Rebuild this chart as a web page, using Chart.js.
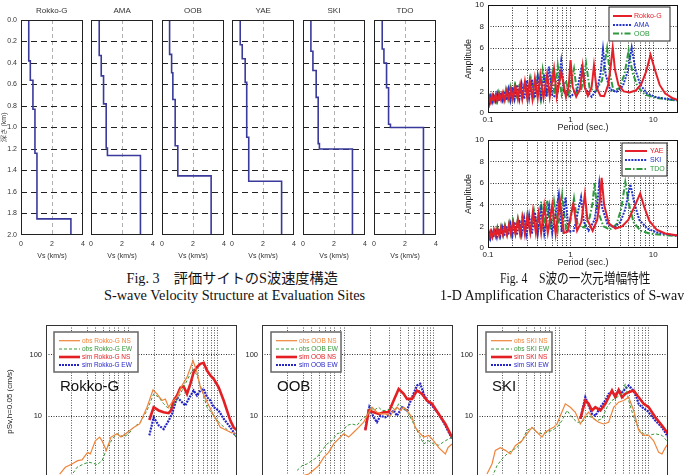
<!DOCTYPE html>
<html><head><meta charset="utf-8">
<script src="https://cdn.jsdelivr.net/npm/chart.js@4.4.1/dist/chart.umd.min.js"></script>
<style>
html,body{margin:0;padding:0;background:#fff;}
#page{position:relative;width:684px;height:475px;overflow:hidden;background:#fff;}
.txt{position:absolute;white-space:nowrap;line-height:1;}
canvas{position:absolute;}
</style></head><body><div id="page"></div>
<script>
// ===== Fig.3 S-wave velocity structure: layer top depth (km) and Vs (km/s) =====
const vsSites = ['Rokko-G', 'AMA', 'OOB', 'YAE', 'SKI', 'TDO'];
const rokkoDepth = [0, 0.38, 0.56, 0.83, 1.24, 1.85];
const rokkoVs    = [0.50, 0.60, 0.77, 0.90, 1.03, 3.22];
const amaDepth   = [0, 0.33, 0.52, 0.78, 1.19, 1.26];
const amaVs      = [0.53, 0.66, 0.81, 0.98, 1.06, 3.19];
const oobDepth   = [0, 0.32, 0.49, 0.74, 1.17, 1.45];
const oobVs      = [0.49, 0.62, 0.70, 0.85, 1.02, 3.17];
const yaeDepth   = [0, 0.23, 0.36, 0.58, 1.09, 1.50];
const yaeVs      = [0.53, 0.66, 0.85, 0.95, 1.08, 3.20];
const skiDepth   = [0, 0.29, 0.47, 0.72, 1.15, 1.20];
const skiVs      = [0.51, 0.64, 0.85, 0.98, 1.06, 3.19];
const tdoDepth   = [0, 0.27, 0.40, 0.63, 0.97, 1.00];
const tdoVs      = [0.53, 0.64, 0.81, 0.94, 1.06, 3.19];
const depthTicks = [0, 0.2, 0.4, 0.6, 0.8, 1.0, 1.2, 1.4, 1.6, 1.8, 2.0];
const vsTicks = [0, 2, 4];

// ===== Fig.4 1-D amplification: [period (s), amplitude] =====
const ampLabelsTop = ['Rokko-G', 'AMA', 'OOB'];
const ampLabelsBot = ['YAE', 'SKI', 'TDO'];
const ampRokko = [[0.1,1.0],[0.104,1.5],[0.108,1.0],[0.113,1.6],[0.118,1.1],[0.124,1.7],[0.13,1.1],[0.137,1.8],[0.144,1.2],[0.152,1.9],[0.16,1.2],[0.17,2.1],[0.18,1.3],[0.19,2.2],[0.2,1.3],[0.215,2.5],[0.23,1.3],[0.245,2.6],[0.26,1.3],[0.28,2.9],[0.3,1.3],[0.32,3.0],[0.345,1.3],[0.37,3.2],[0.4,1.4],[0.43,3.5],[0.47,1.4],[0.52,3.6],[0.56,1.5],[0.63,4.1],[0.68,1.5],[0.77,3.8],[0.88,1.5],[0.95,2.5],[1.0,4.9],[1.06,2.4],[1.17,1.5],[1.3,2.2],[1.4,4.3],[1.48,2.4],[1.62,1.6],[1.8,2.4],[1.92,4.4],[2.05,2.4],[2.3,1.6],[2.55,1.55],[2.85,2.6],[3.05,4.2],[3.24,6.05],[3.45,4.0],[3.8,2.6],[4.4,2.0],[5.2,1.9],[6.2,2.1],[7.2,2.7],[8.2,3.8],[9.3,5.4],[10.5,4.0],[12,2.6],[14,1.8],[17,1.4],[20,1.2]];
const ampAma = [[0.1,1.1],[0.103,0.8],[0.107,1.5],[0.112,1.0],[0.117,1.6],[0.123,1.1],[0.129,1.8],[0.135,1.1],[0.142,1.9],[0.15,1.2],[0.158,2.0],[0.167,1.2],[0.177,2.2],[0.187,1.2],[0.198,2.4],[0.21,1.3],[0.225,2.6],[0.24,1.3],[0.255,2.7],[0.275,1.3],[0.295,3.0],[0.315,1.4],[0.34,3.1],[0.37,1.4],[0.4,3.4],[0.44,1.4],[0.48,3.6],[0.51,1.5],[0.55,4.3],[0.6,1.6],[0.68,1.5],[0.77,4.8],[0.84,1.9],[1.0,1.5],[1.2,2.1],[1.38,4.5],[1.5,2.3],[1.8,1.5],[2.1,2.2],[2.3,3.6],[2.47,5.9],[2.65,3.6],[3.0,2.2],[3.6,1.95],[4.3,2.5],[4.9,3.8],[5.5,6.05],[6.1,4.0],[7.0,2.6],[8.5,1.8],[11,1.45],[15,1.3],[20,1.2]];
const ampOob = [[0.1,1.2],[0.104,1.0],[0.109,1.6],[0.114,1.1],[0.12,1.7],[0.126,1.1],[0.133,1.9],[0.14,1.2],[0.148,2.0],[0.156,1.2],[0.165,2.2],[0.175,1.3],[0.186,2.4],[0.197,1.3],[0.21,2.5],[0.225,1.3],[0.24,2.7],[0.26,1.4],[0.28,2.9],[0.3,1.4],[0.33,3.2],[0.36,1.5],[0.4,3.4],[0.43,1.5],[0.46,4.0],[0.52,1.6],[0.6,3.7],[0.64,1.7],[0.7,4.4],[0.78,1.7],[0.88,3.0],[0.95,1.8],[1.1,4.1],[1.2,1.8],[1.35,2.2],[1.54,4.6],[1.7,2.3],[2.0,2.0],[2.4,3.0],[2.77,6.0],[3.0,3.6],[3.3,2.1],[3.9,2.3],[4.5,3.6],[5.05,5.8],[5.6,3.8],[6.5,2.4],[8,1.7],[11,1.4],[15,1.25],[20,1.15]];
const ampYae = [[0.1,1.2],[0.104,0.9],[0.108,1.5],[0.113,1.0],[0.118,1.7],[0.124,1.1],[0.13,1.8],[0.137,1.1],[0.144,1.9],[0.152,1.2],[0.161,2.0],[0.17,1.2],[0.18,2.2],[0.19,1.3],[0.202,2.4],[0.215,1.3],[0.23,2.6],[0.245,1.3],[0.262,2.8],[0.28,1.3],[0.3,3.0],[0.325,1.4],[0.35,3.4],[0.38,1.4],[0.41,3.2],[0.44,1.4],[0.48,3.9],[0.53,1.4],[0.6,4.0],[0.66,1.3],[0.74,4.5],[0.83,1.4],[0.92,1.5],[1.08,4.1],[1.2,1.6],[1.35,2.4],[1.49,4.95],[1.6,2.6],[1.85,1.6],[2.1,2.6],[2.25,4.2],[2.38,6.5],[2.55,4.0],[2.9,2.3],[3.5,1.8],[4.2,2.0],[5.0,2.6],[6.0,3.9],[6.97,5.05],[7.8,3.8],[9,2.5],[11,1.7],[14,1.35],[20,1.15]];
const ampSki = [[0.1,1.0],[0.103,1.4],[0.107,0.9],[0.111,1.5],[0.116,1.0],[0.122,1.6],[0.128,1.0],[0.134,1.8],[0.141,1.1],[0.149,1.9],[0.157,1.1],[0.166,2.0],[0.176,1.2],[0.187,2.2],[0.198,1.2],[0.21,2.4],[0.224,1.2],[0.24,2.6],[0.256,1.3],[0.274,2.8],[0.294,1.3],[0.315,3.0],[0.34,1.3],[0.37,3.3],[0.4,1.3],[0.44,3.6],[0.48,1.3],[0.55,3.9],[0.6,1.4],[0.72,4.9],[0.78,1.5],[0.87,4.7],[0.95,1.5],[1.1,1.6],[1.34,4.7],[1.45,2.4],[1.65,1.6],[1.95,2.6],[2.1,4.0],[2.23,6.0],[2.4,3.8],[2.8,2.2],[3.4,1.9],[4.0,2.4],[4.6,3.6],[5.3,5.9],[5.9,4.2],[6.8,2.6],[8.5,1.8],[11,1.45],[15,1.25],[20,1.15]];
const ampTdo = [[0.1,1.3],[0.104,1.0],[0.108,1.6],[0.113,1.1],[0.118,1.7],[0.124,1.1],[0.13,1.9],[0.137,1.2],[0.144,2.0],[0.152,1.2],[0.16,2.1],[0.17,1.3],[0.18,2.3],[0.19,1.3],[0.2,2.5],[0.215,1.4],[0.23,2.7],[0.245,1.4],[0.26,2.9],[0.28,1.5],[0.3,3.1],[0.33,1.5],[0.36,3.5],[0.4,1.6],[0.44,4.3],[0.47,1.6],[0.52,4.4],[0.57,1.7],[0.63,4.3],[0.7,1.7],[0.79,4.9],[0.88,1.8],[0.98,2.2],[1.1,4.6],[1.22,2.1],[1.45,1.9],[1.7,2.8],[1.85,4.2],[1.95,6.0],[2.1,3.6],[2.5,2.0],[3.0,1.7],[3.6,2.2],[4.1,3.6],[4.6,6.1],[5.1,4.0],[5.8,2.4],[7,1.6],[9,1.35],[13,1.2],[20,1.1]];
const ampYTicks = [0, 2, 4, 6, 8, 10];
const periodTickLabels = [0.1, 1, 10];

// ===== Fig.5 pSv (h=0.05) : [period (s), cm/s] =====
const psvSites = ['Rokko-G', 'OOB', 'SKI'];
const obsNS_R = [[0.0328,1.16],[0.0402,1.49],[0.0512,1.69],[0.0628,1.91],[0.0735,1.96],[0.0902,2.6],[0.0994,2.45],[0.119,4.0],[0.139,4.6],[0.152,4.0],[0.177,2.8],[0.210,4.6],[0.261,5.2],[0.301,4.6],[0.365,5.3],[0.476,6.6],[0.592,7.5],[0.772,14],[0.959,26.7],[1.108,23],[1.327,18],[1.497,19],[1.689,14],[1.906,16.9],[2.284,20.3],[2.736,31.4],[3.28,42.9],[4.073,80],[4.707,51.8],[5.311,29.5],[6.597,18],[8.395,10.9],[10.94,6.6],[15.72,5.5],[20,5.2]];
const obsEW_R = [[0.0482,1.03],[0.0614,1.49],[0.0781,1.69],[0.0936,1.8],[0.112,1.73],[0.127,1.64],[0.152,1.91],[0.182,3.1],[0.231,4.6],[0.267,5.2],[0.332,4.6],[0.398,5.2],[0.476,6.6],[0.606,8.0],[0.772,12.4],[0.982,23],[1.177,20.3],[1.41,15.9],[1.689,13.2],[2.024,14.9],[2.576,23],[3.28,37.9],[4.073,58.6],[4.707,45.7],[5.641,26.1],[6.758,14],[8.6,10.2],[10.94,7.5],[15.72,5.5],[20,4.6]];
const simNS_R = [[0.8395,8.7],[0.982,14.0],[1.177,12.4],[1.41,11.6],[1.689,11.2],[1.838,12.4],[2.024,18],[2.284,21.6],[2.576,28.8],[2.906,30.3],[3.28,23],[3.698,33.5],[4.173,51.8],[4.707,62.3],[5.311,70.6],[5.99,73.2],[6.758,55],[7.624,45.7],[8.6,40.4],[10.3,29.5],[12.35,18],[15.72,8.5],[17.73,6.6],[20,5.9]];
const simEW_R = [[0.8395,4.9],[0.982,9.6],[1.177,7.1],[1.41,6.2],[1.689,8.5],[1.906,10.9],[2.284,20.3],[2.576,18],[3.087,14.9],[3.482,19.1],[4.173,26.1],[4.707,21.6],[5.311,26.1],[5.99,27.7],[6.758,20.3],[7.624,18],[8.6,14],[10.3,12.4],[12.35,9.1],[15.72,6.6],[20,4.6]];
const obsNS_O = [[0.0902,1.09],[0.1081,1.16],[0.1296,1.35],[0.1553,1.58],[0.1861,2.16],[0.2229,2.6],[0.2672,3.56],[0.32,4.3],[0.3834,5.2],[0.4595,4.6],[0.5506,5.5],[0.6597,6.6],[0.7906,8.0],[0.8917,10.2],[1.068,14],[1.28,11.6],[1.534,10.9],[1.731,10.9],[2.074,10.2],[2.339,12.4],[2.639,14],[2.977,12.4],[3.358,14],[3.789,12.4],[4.539,9.6],[5.122,6.6],[6.137,5.2],[6.923,4.6],[8.295,4.9],[9.94,4.0],[11.91,3.1],[15.16,2.45],[16.69,3.1],[19.29,3.56]];
const obsEW_O = [[0.0709,1.32],[0.085,1.58],[0.1018,1.69],[0.122,1.91],[0.1462,2.16],[0.1751,2.8],[0.2099,3.56],[0.2515,4.0],[0.3013,5.2],[0.361,5.5],[0.4326,7.1],[0.5184,7.5],[0.6211,7.1],[0.7443,9.1],[0.8917,10.2],[1.006,14.4],[1.135,12.4],[1.36,14],[1.534,12.4],[1.838,12.4],[2.203,14],[2.485,12.4],[2.803,15.9],[3.358,13.2],[4.025,10.9],[4.823,7.5],[5.778,5.2],[6.923,3.56],[8.295,4.0],[9.94,3.56],[11.91,3.4],[15.16,4.0],[19.29,4.6]];
const simNS_O = [[0.8395,5.9],[0.9472,12.4],[1.135,11.6],[1.36,10.9],[1.629,11.6],[1.952,11.6],[2.339,18],[2.803,27.7],[3.358,23],[3.789,19.1],[4.539,19.1],[5.44,26.1],[6.519,23],[7.808,18],[9.359,15.9],[11.91,10.9],[15.16,7.5],[19.29,4.6]];
const simEW_O = [[0.8395,6.2],[0.9703,14],[1.135,9.6],[1.28,8.0],[1.444,10.2],[1.731,9.6],[2.074,10.9],[2.339,12.4],[2.639,10.2],[3.162,14],[3.789,12.4],[4.539,20.3],[5.44,31.4],[6.137,33.5],[6.923,23],[7.808,18],[9.359,14.9],[11.91,10.9],[15.16,7.1],[19.29,4.3]];
const obsNS_S = [[0.0287,1.16],[0.0344,1.69],[0.0388,2.8],[0.0465,3.1],[0.0557,2.8],[0.0668,2.45],[0.08,3.34],[0.1018,4.0],[0.122,5.2],[0.1462,6.6],[0.1751,5.5],[0.2099,4.6],[0.2367,5.5],[0.2836,6.2],[0.32,6.6],[0.361,7.5],[0.4073,10.2],[0.4881,15.9],[0.5848,14],[0.7006,11.6],[0.8395,7.5],[1.006,10.2],[1.135,11.6],[1.36,9.1],[1.629,8.0],[1.952,7.5],[2.339,8.0],[2.803,14],[3.358,16.9],[4.025,18],[4.823,20.3],[5.778,12.4],[6.923,5.9],[8.295,4.9],[9.94,4.9],[11.91,4.0],[14.27,2.6],[16.1,2.45],[18.16,3.1],[20,3.56]];
const obsEW_S = [[0.0344,1.03],[0.0412,1.58],[0.0494,2.03],[0.0592,2.45],[0.0709,2.8],[0.085,3.1],[0.1018,4.0],[0.122,5.9],[0.1462,6.6],[0.1751,5.5],[0.2099,5.2],[0.2515,5.5],[0.3013,5.9],[0.361,6.6],[0.4326,8.5],[0.5184,12.4],[0.6211,9.6],[0.7443,8.0],[0.8917,8.0],[1.068,10.2],[1.28,9.6],[1.534,8.5],[1.838,9.1],[2.203,14],[2.639,18],[3.162,20.3],[3.789,23],[4.273,33.5],[4.823,18],[5.778,9.6],[6.923,6.2],[8.295,5.2],[9.94,4.9],[12.65,5.2],[16.1,4.9],[20,3.8]];
const simNS_S = [[0.8395,9.1],[1.006,18],[1.135,15.9],[1.28,12.4],[1.444,14],[1.731,12.4],[2.074,15.9],[2.339,20.3],[2.639,26.1],[2.977,20.3],[3.358,26.7],[3.789,20.3],[4.273,23],[4.823,24.5],[5.778,26.1],[6.923,20.3],[8.295,15.9],[9.94,14],[12.65,9.6],[16.1,7.1],[20,5.2]];
const simEW_S = [[0.8395,9.1],[1.006,20.3],[1.135,14.9],[1.28,10.9],[1.444,10.2],[1.731,14],[2.074,18],[2.339,23],[2.639,24.5],[2.977,21.6],[3.358,26.1],[3.789,24.5],[4.273,27.7],[4.823,31.4],[5.44,27.7],[6.137,23],[6.923,15.9],[7.808,14],[9.359,12.4],[12.65,8.5],[16.1,6.6],[20,4.6]];
const psvTickLabels = [1, 10, 100];
const psvPeriodLabels = [0.1, 1, 10];
const psvGridPeriods = [0.05, 0.09, 0.12, 0.16, 0.2, 0.24, 0.28, 0.34, 0.4, 1, 2, 3, 4, 5, 6, 7, 8, 9, 10];

// ===================== helpers =====================
const page = document.getElementById('page');
const F = "'Liberation Sans', Arial, sans-serif";
Chart.defaults.font.family = F;

function txt(s, x, y, font, color, opt) {
  opt = opt || {};
  const e = document.createElement('div');
  e.className = 'txt'; e.textContent = s; e.style.font = font; e.style.color = color || '#222';
  page.appendChild(e);
  const w = e.offsetWidth, h = e.offsetHeight;
  let left = opt.align === 'left' ? x : x - w / 2;
  e.style.top = (y - h / 2) + 'px';
  if (opt.w) { e.style.transformOrigin = opt.align === 'left' ? 'left center' : 'center center'; e.style.transform = 'scaleX(' + (opt.w / w) + ')'; }
  e.style.left = left + 'px';
  return e;
}
const pts = arr => arr.map(p => ({x: p[0], y: p[1]}));
function stepPts(depth, vs, maxDepth) {
  const out = [];
  for (let i = 0; i < depth.length; i++) {
    out.push({x: vs[i], y: depth[i]});
    out.push({x: vs[i], y: i + 1 < depth.length ? depth[i + 1] : maxDepth});
  }
  return out;
}
function framePlugin(color, w) {
  return {id: 'frame', afterDatasetsDraw(chart) {
    const a = chart.chartArea, c = chart.ctx;
    c.save(); c.setLineDash([]); c.strokeStyle = color; c.lineWidth = w;
    c.strokeRect(a.left + w / 2, a.top + w / 2, a.right - a.left - w, a.bottom - a.top - w);
    c.restore();
  }};
}
function legendPlugin(o) {
  return {id: 'boxLegend', afterDraw(chart) {
    const c = chart.ctx, ox = o.ox, oy = o.oy;
    c.save();
    c.setLineDash([]);
    c.fillStyle = '#fff'; c.fillRect(o.box[0] - ox, o.box[1] - oy, o.box[2], o.box[3]);
    c.strokeStyle = o.boxColor; c.lineWidth = o.boxWidth;
    c.strokeRect(o.box[0] - ox, o.box[1] - oy, o.box[2], o.box[3]);
    chart.data.datasets.forEach((ds, i) => {
      const y = o.rows[i] - oy;
      c.strokeStyle = ds.borderColor; c.lineWidth = ds.borderWidth; c.setLineDash(ds.borderDash || []);
      c.beginPath(); c.moveTo(o.lx1 - ox, y); c.lineTo(o.lx2 - ox, y); c.stroke();
      c.setLineDash([]);
      c.fillStyle = ds.borderColor; c.font = o.font; c.textBaseline = 'middle'; c.textAlign = 'left';
      c.fillText(ds.label, o.tx - ox, y + 0.5);
    });
    c.restore();
  }};
}
function mkChart(cfg) {
  const m = cfg.m;
  const cw = Math.round(m.l + cfg.W + m.r), ch = Math.round(m.t + cfg.H + m.b);
  const cv = document.createElement('canvas');
  cv.width = cw; cv.height = ch;
  cv.style.left = (cfg.L - m.l) + 'px'; cv.style.top = (cfg.T - m.t) + 'px';
  cv.style.width = cw + 'px'; cv.style.height = ch + 'px';
  page.appendChild(cv);
  cfg.scales.x.afterFit = s => { s.height = m.b; s.paddingLeft = 0; s.paddingRight = 0; s.paddingTop = 0; s.paddingBottom = 0; };
  cfg.scales.y.afterFit = s => { s.width = m.l; s.paddingTop = 0; s.paddingBottom = 0; s.paddingLeft = 0; s.paddingRight = 0; };
  const plugins = [framePlugin(cfg.frameColor || '#111', 1)];
  if (cfg.legend) { cfg.legend.ox = cfg.L - m.l; cfg.legend.oy = cfg.T - m.t; plugins.push(legendPlugin(cfg.legend)); }
  return new Chart(cv, {
    type: 'line',
    data: {datasets: cfg.datasets},
    options: {
      responsive: false, animation: false, devicePixelRatio: 1,
      layout: {padding: {left: 0, top: m.t, right: m.r, bottom: 0}},
      plugins: {legend: {display: false}, tooltip: {enabled: false}, title: {display: false}},
      elements: {point: {radius: 0, hoverRadius: 0}, line: {tension: 0, fill: false}},
      scales: cfg.scales
    },
    plugins
  });
}

// ===================== Fig.3 =====================
const vsDepth = [rokkoDepth, amaDepth, oobDepth, yaeDepth, skiDepth, tdoDepth];
const vsVals  = [rokkoVs, amaVs, oobVs, yaeVs, skiVs, tdoVs];
const f3L = [21, 91, 162, 232, 303, 374];
vsSites.forEach((site, i) => {
  const first = i === 0;
  mkChart({
    L: f3L[i], T: 20, W: 62, H: 215,
    m: {l: first ? 21 : 4, t: 6, r: 5, b: 26},
    frameColor: '#222',
    datasets: [{label: site, data: stepPts(vsDepth[i], vsVals[i], depthTicks[depthTicks.length - 1]),
      borderColor: '#3a3a9c', borderWidth: 1.6}],
    scales: {
      x: {type: 'linear', position: 'bottom', min: vsTicks[0], max: vsTicks[vsTicks.length - 1],
        afterBuildTicks: s => { s.ticks = vsTicks.map(v => ({value: v})); },
        ticks: {font: {size: 7}, color: '#333', padding: 5, maxRotation: 0, autoSkip: false, callback: v => String(v)},
        grid: {drawTicks: false, lineWidth: 1, color: c => (c.tick && c.tick.value > 0 && c.tick.value < 4) ? '#b0b0b0' : 'rgba(0,0,0,0)'},
        border: {display: false, dash: [4, 3]},
        title: {display: true, text: 'Vs (km/s)', font: {size: 7}, color: '#333', padding: {top: 0, bottom: 1}}},
      y: {type: 'linear', position: 'left', reverse: true, min: 0, max: 2,
        afterBuildTicks: s => { s.ticks = depthTicks.map(v => ({value: v})); },
        ticks: {display: first, font: {size: 7}, color: '#333', padding: 4, autoSkip: false, callback: v => Number(v).toFixed(1)},
        grid: {drawTicks: false, lineWidth: 1, color: c => (c.tick && c.tick.value > 0.01 && c.tick.value < 1.99) ? '#222' : 'rgba(0,0,0,0)'},
        border: {display: false, dash: [6, 4]},
        title: {display: first, text: '深さ (km)', font: {size: 7}, color: '#333', padding: {top: 0, bottom: 0}}}
    }
  });
  txt(site, f3L[i] + 31, 10, '8px ' + F, '#333');
});

// ===================== Fig.4 =====================
function ampScales() {
  return {
    x: {type: 'logarithmic', position: 'bottom', min: 0.1, max: 20,
      ticks: {font: {size: 8}, color: '#222', padding: 2, maxRotation: 0, autoSkip: false,
        callback: v => periodTickLabels.some(t => Math.abs(v - t) < 1e-9) ? String(v) : ''},
      grid: {drawTicks: false, lineWidth: 1, color: c => (c.tick && c.tick.value > 0.1001 && c.tick.value < 19.99) ? '#333' : 'rgba(0,0,0,0)'},
      border: {display: false, dash: [1, 1.5]},
      title: {display: true, text: 'Period (sec.)', font: {size: 9}, color: '#222', padding: {top: 0, bottom: 0}}},
    y: {type: 'linear', position: 'left', min: 0, max: 10,
      afterBuildTicks: s => { s.ticks = ampYTicks.map(v => ({value: v})); },
      ticks: {font: {size: 8}, color: '#222', padding: 4, autoSkip: false, callback: v => String(v)},
      grid: {drawTicks: false, lineWidth: 1, color: c => (c.tick && c.tick.value > 0 && c.tick.value < 10) ? '#333' : 'rgba(0,0,0,0)'},
      border: {display: false, dash: [1, 1.5]},
      title: {display: true, text: 'Amplitude', font: {size: 9}, color: '#222', padding: {top: 0, bottom: 0}}}
  };
}
const ampStyles = [
  {borderColor: '#e5202a', borderWidth: 2},
  {borderColor: '#2233cc', borderWidth: 2, borderDash: [2, 1.2]},
  {borderColor: '#2d9a3e', borderWidth: 2, borderDash: [6, 2, 1.5, 2]}
];
mkChart({
  L: 488, T: 5, W: 190, H: 108, m: {l: 25, t: 5, r: 5, b: 20},
  datasets: [ampRokko, ampAma, ampOob].map((d, i) => Object.assign({label: ampLabelsTop[i], data: pts(d)}, ampStyles[i])),
  scales: ampScales(),
  legend: {box: [609, 7, 61, 34], boxColor: '#222', boxWidth: 1, rows: [16, 25, 33.5], lx1: 613, lx2: 632, tx: 634, font: '7px ' + F}
});
mkChart({
  L: 488, T: 140, W: 190, H: 108, m: {l: 25, t: 5, r: 5, b: 20},
  datasets: [ampYae, ampSki, ampTdo].map((d, i) => Object.assign({label: ampLabelsBot[i], data: pts(d)}, ampStyles[i])),
  scales: ampScales(),
  legend: {box: [622, 143, 45, 33], boxColor: '#222', boxWidth: 1, rows: [151, 160, 169], lx1: 625, lx2: 647, tx: 650, font: '7px ' + F}
});

// ===================== Fig.5 =====================
const psvData = [[obsNS_R, obsEW_R, simNS_R, simEW_R], [obsNS_O, obsEW_O, simNS_O, simEW_O], [obsNS_S, obsEW_S, simNS_S, simEW_S]];
const psvStyles = [
  {pre: 'obs', comp: 'NS', borderColor: '#f0843a', borderWidth: 1.2},
  {pre: 'obs', comp: 'EW', borderColor: '#3a983a', borderWidth: 1, borderDash: [3, 2]},
  {pre: 'sim', comp: 'NS', borderColor: '#e41e22', borderWidth: 2.6},
  {pre: 'sim', comp: 'EW', borderColor: '#2626c8', borderWidth: 2.2, borderDash: [2, 1]}
];
const f5L = [46, 262, 477];
const f5Legend = [54, 271, 486];
const f5LegendW = [84, 70, 66];
psvSites.forEach((site, p) => {
  const first = p === 0;
  mkChart({
    L: f5L[p], T: 325, W: 191, H: 152.8, m: {l: first ? 46 : 22, t: 6, r: 3, b: 20},
    frameColor: '#333',
    datasets: psvData[p].map((d, i) => ({label: psvStyles[i].pre + ' ' + site + ' ' + psvStyles[i].comp, data: pts(d),
      borderColor: psvStyles[i].borderColor, borderWidth: psvStyles[i].borderWidth, borderDash: psvStyles[i].borderDash})),
    scales: {
      x: {type: 'logarithmic', position: 'bottom', min: 0.02, max: 20,
        afterBuildTicks: s => { s.ticks = psvGridPeriods.map(v => ({value: v})); },
        ticks: {font: {size: 7}, color: '#222', padding: 3, maxRotation: 0, autoSkip: false,
          callback: v => psvPeriodLabels.some(t => Math.abs(v - t) < 1e-9) ? String(v) : ''},
        grid: {drawTicks: false, lineWidth: 1, color: '#555'},
        border: {display: false, dash: [1, 1.5]}},
      y: {type: 'logarithmic', position: 'left', min: 1, max: 300,
        ticks: {font: {size: 7.5}, color: '#222', padding: 4, autoSkip: false,
          callback: v => psvTickLabels.some(t => Math.abs(v - t) < 1e-9) ? String(v) : ''},
        grid: {drawTicks: false, lineWidth: 1, color: c => (c.tick && (Math.abs(c.tick.value - 10) < 1e-6 || Math.abs(c.tick.value - 100) < 1e-6)) ? '#333' : 'rgba(0,0,0,0)'},
        border: {display: false, dash: [1, 1.5]},
        title: {display: first, text: 'pSv,h=0.05 (cm/s)', font: {size: 8}, color: '#222', padding: {top: 5, bottom: 0}}}
    },
    legend: {box: [f5Legend[p], 332, f5LegendW[p], 40], boxColor: '#666', boxWidth: 1.5, rows: [340.7, 349, 357, 365],
      lx1: f5Legend[p] + 5, lx2: f5Legend[p] + 26, tx: f5Legend[p] + 28, font: '6.5px ' + F}
  });
  txt(site, f5Legend[p] + 6, 385, '15px ' + F, '#111', {align: 'left'});
});

// ===================== captions =====================
const SERIF = "'Liberation Serif', 'Noto Sans CJK JP', serif";
txt('Fig. 3　評価サイトのS波速度構造', 232, 277, '14px ' + SERIF, '#111', {w: 211});
txt('S-wave Velocity Structure at Evaluation Sites', 234, 296, '14px ' + SERIF, '#111', {w: 261});
txt('Fig. 4　S波の一次元増幅特性', 575, 277, '14px ' + SERIF, '#111', {w: 150});
txt('1-D Amplification Characteristics of S-waves', 440, 296, '14px ' + SERIF, '#111', {align: 'left'});
</script></body></html>
